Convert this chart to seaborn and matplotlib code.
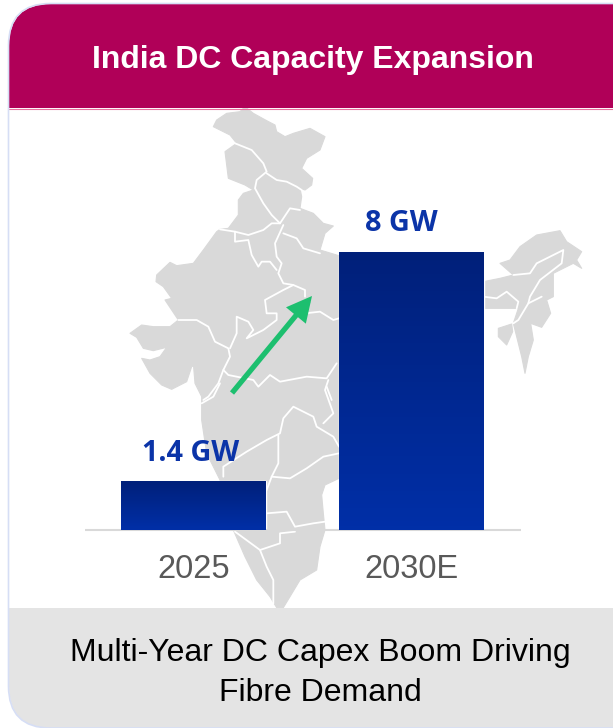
# India DC capacity bar chart with map behind it

import numpy as np
import pandas as pd
from matplotlib import pyplot as plt
from matplotlib.colors import LinearSegmentedColormap
from matplotlib.patches import FancyBboxPatch, Polygon, Rectangle
import seaborn as sns

sns.set_style('white')
plt.rcParams['font.family'] = ['Liberation Sans', 'DejaVu Sans']

# Data
years = ['2025', '2030E']
capacity = [1.4, 8]
labels = ['1.4 GW', '8 GW']
label_shift = [-2.5, -10.5]
title = 'India DC Capacity Expansion'
footer = 'Multi-Year DC Capex Boom Driving\nFibre Demand'

W, H = 613, 728


def top(pts):
    return [(120 + x / 3, 100 + y / 3) for x, y in pts]


def low(pts):
    return [(x / 3, 380 + y / 3) for x, y in pts]


mainland = top([(375, 20), (400, 40), (440, 62), (465, 75), (470, 95), (495, 110), (520, 100), (570, 85),
                (615, 110), (600, 150), (560, 175), (545, 205), (578, 235), (575, 255), (555, 270),
                (540, 265), (545, 290), (540, 325), (580, 340), (610, 370), (640, 378), (615, 400),
                (600, 450), (640, 462), (700, 480), (800, 510), (1000, 540), (1090, 545)])
mainland += top([(1090, 625), (1000, 640), (900, 720)])
mainland += low([(1017, 295), (975, 315), (965, 345), (970, 400), (975, 450), (960, 500), (950, 570),
                 (900, 600), (870, 650), (850, 683), (830, 683), (810, 650), (770, 600), (735, 530),
                 (700, 450), (660, 300), (620, 220), (605, 120), (605, 60)])
mainland += top([(245, 890), (225, 850), (220, 790), (240, 790), (215, 800), (200, 845), (155, 868),
                 (125, 855), (90, 820), (65, 775), (90, 780), (120, 770), (140, 742), (100, 752),
                 (70, 745), (50, 712), (30, 700), (65, 675), (100, 680), (150, 680), (175, 660),
                 (135, 600), (155, 595), (130, 560), (108, 545), (110, 525), (150, 487), (170, 497),
                 (220, 490), (250, 450), (290, 395), (300, 388), (325, 385), (355, 345), (355, 300),
                 (370, 280), (400, 270), (375, 255), (325, 235), (315, 155), (350, 130), (330, 105),
                 (280, 80), (290, 60), (320, 40), (360, 35)])

northeast = top([(1090, 545), (1140, 535), (1180, 525), (1140, 490), (1170, 480), (1200, 440), (1250, 405),
                 (1320, 392), (1340, 425), (1385, 455), (1370, 480), (1385, 505), (1360, 490), (1300, 520),
                 (1300, 590), (1280, 600), (1292, 640), (1265, 682), (1232, 670), (1240, 720), (1225, 770),
                 (1215, 820), (1205, 770), (1190, 710), (1180, 670), (1195, 625), (1090, 625)])
tripura = top([(1135, 685), (1175, 672), (1178, 695), (1160, 735), (1135, 710)])

borders = [
    top([(345, 130), (395, 150), (430, 190), (440, 215), (410, 240), (405, 265), (430, 310), (455, 345), (480, 370)]),
    top([(440, 220), (470, 240), (500, 245), (530, 260), (545, 270)]),
    top([(480, 370), (510, 325), (540, 330)]),
    top([(490, 400), (530, 415), (550, 445), (600, 460)]),
    top([(490, 375), (465, 430), (470, 470), (485, 490), (475, 520), (490, 550), (520, 555), (555, 570), (555, 590)]),
    top([(300, 388), (345, 395), (385, 405), (430, 390), (455, 370), (480, 370)]),
    top([(345, 395), (345, 425), (385, 420), (395, 465), (415, 500), (425, 485), (450, 485), (470, 510)]),
    top([(175, 660), (230, 660), (265, 680), (285, 725), (325, 745), (330, 770), (310, 810), (295, 850), (265, 890), (250, 900)]),
    top([(520, 555), (490, 570), (435, 600), (440, 640), (470, 640), (470, 660), (430, 690), (380, 715), (400, 690), (385, 665), (350, 650), (350, 700), (330, 745)]),
    top([(555, 640), (600, 635), (640, 660), (657, 655)]),
    top([(310, 810), (325, 825), (400, 840), (415, 860), (450, 825), (480, 845), (560, 830), (620, 835), (650, 790)]),
    top([(620, 860), (635, 900)]),
    top([(1090, 590), (1130, 595), (1160, 575), (1195, 605), (1190, 625)]),
    top([(1180, 525), (1230, 520), (1250, 490), (1330, 450), (1325, 490), (1260, 540), (1230, 590), (1225, 610), (1195, 660), (1180, 670)]),
    top([(1225, 610), (1265, 590)]),
    low([(605, 70), (640, 50), (660, 10)]),
    low([(670, 290), (670, 260), (740, 215), (800, 180), (840, 160), (850, 115), (880, 80), (940, 110), (950, 140), (1000, 170), (1017, 200)]),
    low([(835, 165), (835, 250), (815, 290), (800, 330)]),
    low([(815, 290), (870, 295), (920, 265), (970, 230), (1017, 220)]),
    low([(800, 400), (860, 395), (885, 440), (940, 430), (975, 425)]),
    low([(705, 455), (780, 510), (840, 490), (840, 460), (885, 455)]),
    low([(780, 510), (800, 560), (820, 600), (820, 670)]),
    low([(985, 0), (975, 30), (1000, 100), (970, 130)]),
]

fig = plt.figure(figsize=(W / 100, H / 100), dpi=100, facecolor='white')

# Card and map, in image pixels
bg = fig.add_axes([0, 0, 1, 1], zorder=0)
bg.set_xlim(0, W)
bg.set_ylim(H, 0)
bg.axis('off')

card = FancyBboxPatch((9, 4), W + 60, H - 4, boxstyle='round,pad=0,rounding_size=42',
                      facecolor='white', edgecolor='none', zorder=1)
bg.add_patch(card)
for y0, y1, col in [(4, 108, '#B00058'), (608, H, '#E4E4E4')]:
    band = Rectangle((9, y0), W + 60, y1 - y0, facecolor=col, edgecolor='none', zorder=2)
    bg.add_patch(band)
    band.set_clip_path(card)
bg.plot([9, W], [108.5, 108.5], color='#E8709F', lw=0.8, zorder=2)
bg.add_patch(FancyBboxPatch((8.5, 3.5), W + 60, H - 3.5, boxstyle='round,pad=0,rounding_size=42',
                            facecolor='none', edgecolor='#D6DEF5', linewidth=1.2, zorder=2.5))

for shape in [mainland, northeast, tripura]:
    bg.add_patch(Polygon(shape, closed=True, facecolor='#D9D9D9', edgecolor='#D9D9D9', lw=0.8,
                         joinstyle='round', zorder=1.5))
for line in borders:
    xs, ys = zip(*line)
    bg.plot(xs, ys, color='white', lw=1.3, solid_joinstyle='round', zorder=1.6)

bg.text(312.5, 60, title, color='white', fontsize=23, fontweight='bold', ha='center', va='center', zorder=3)
bg.text(320, 673, footer, color='black', fontsize=23, ha='center', va='center', linespacing=1.4, zorder=3)

# Bars
ax = fig.add_axes([84.5 / W, (H - 529.5) / H, 436 / W, 347.5 / H], zorder=1)
ax.patch.set_alpha(0)
df = pd.DataFrame({'year': years, 'capacity': capacity})
sns.barplot(data=df, x='year', y='capacity', ax=ax, width=0.665, color='#002FA7', saturation=1)
ax.set_xlim(-0.5, 1.5)
ax.set_ylim(0, 10)
ax.set_xlabel('')
ax.set_ylabel('')
ax.set_yticks([])
sns.despine(ax=ax, left=True)
ax.spines['bottom'].set_color('#D9D9D9')
ax.spines['bottom'].set_linewidth(1.5)
ax.spines['bottom'].set_capstyle('butt')
ax.tick_params(axis='x', length=0, pad=18, labelsize=23.5, labelcolor='#595959')

# vertical gradient on each bar
grad = LinearSegmentedColormap.from_list('bar', ['#00207A', '#002FA7'])
for p in ax.patches:
    b = p.get_bbox()
    im = ax.imshow(np.linspace(0, 1, 64).reshape(-1, 1), cmap=grad, aspect='auto', origin='upper',
                   extent=[b.x0, b.x1, b.y0, b.y1], zorder=3)
    im.set_clip_path(p)
ax.set_xlim(-0.5, 1.5)
ax.set_ylim(0, 10)

for i, v in enumerate(capacity):
    ax.annotate(labels[i], (i, v), xytext=(label_shift[i] * 0.72, 20), textcoords='offset points',
                ha='center', va='center', color='#0B34A8', fontsize=20.8, fontweight='bold',
                family=['Open Sans', 'DejaVu Sans'], zorder=5)

# Green arrow on top of map
over = fig.add_axes([0, 0, 1, 1], zorder=2)
over.set_xlim(0, W)
over.set_ylim(H, 0)
over.axis('off')
over.annotate('', xy=(312, 296), xytext=(232, 393),
              arrowprops=dict(arrowstyle='-|>,head_length=0.55,head_width=0.28', color='#1DBF6F', lw=3.8,
                              mutation_scale=22, shrinkA=0, shrinkB=0, capstyle='butt', joinstyle='miter'))

fig.savefig('out.png', dpi=100)
